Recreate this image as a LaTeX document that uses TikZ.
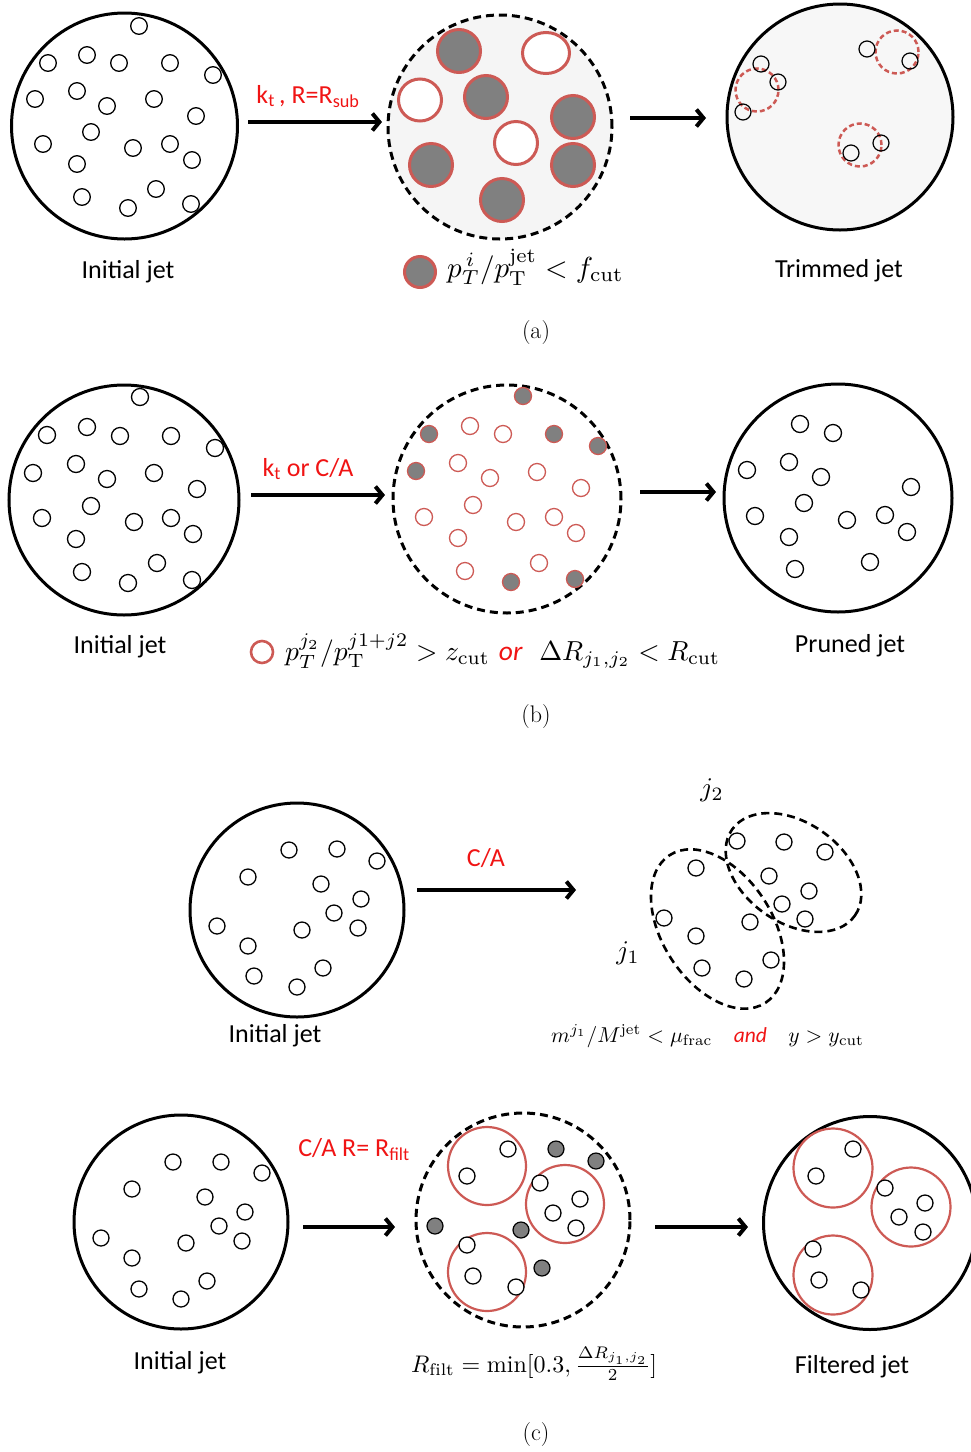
\documentclass[tikz,border=0pt]{standalone}
\usepackage{fontspec}
\usepackage{graphicx}
\newfontfamily\carl{Carlito}
\usetikzlibrary{arrows.meta}
\definecolor{cred}{RGB}{205,90,85}
\definecolor{tred}{RGB}{240,20,20}
\definecolor{pgray}{RGB}{128,128,128}
\newcommand\mth[2]{\scalebox{#1}{\fontsize{10}{12}\selectfont #2}}
\begin{document}
\begin{tikzpicture}[x=1pt,y=-1pt,
  jet/.style={circle, draw, line width=3pt, inner sep=0pt, minimum size=#1},
  djet/.style={circle, draw, line width=3pt, dash pattern=on 8pt off 5pt, inner sep=0pt, minimum size=#1},
  prt/.style={draw, fill=white, line width=1.3pt},
  oprt/.style={draw, line width=1.2pt},
  rprt/.style={draw=cred, fill=white, line width=1.3pt},
  gprt/.style={draw=cred, fill=pgray, line width=1.3pt},
  kprt/.style={draw, fill=pgray, line width=1.2pt},
  bigsub/.style={draw=cred, fill=pgray, line width=3pt},
  opensub/.style={draw=cred, fill=white, line width=3pt},
  rdash/.style={draw=cred, line width=2.5pt, dash pattern=on 5pt off 3pt},
  rring/.style={draw=cred, line width=2.2pt},
  ell/.style={draw, line width=2.6pt, dash pattern=on 8pt off 5pt},
  arr/.style={line width=4pt, -{Straight Barb[length=7pt,width=17pt]}},
  lbl/.style={font=\carl\fontsize{26}{30}\selectfont},
  rlbl/.style={font=\carl\fontsize{26}{30}\selectfont, text=tred},
  captxt/.style={font=\fontsize{24}{28}\selectfont}
]
\useasboundingbox (0,0) rectangle (970,1452);

% ================= (a) =================
\node[jet=226pt] (a1) at (124.5,126) {};
\foreach \x/\y in {139/26,48/63,87/55,119/63,170/63,213/75,35/99,77/91,107/106,154/99,196/116,91/132,43/144,133/148,170/144,192/160,77/164,82/197,128/208,156/189,191/204}
  \draw[prt] (\x,\y) circle[radius=8.3pt];

\node[djet=224pt, fill={rgb,255:red,245;green,245;blue,245}] (a2) at (500,127) {};
\foreach \x/\y in {459/51,486/97,573/117,431/165,573/165,502/200}
  \draw[bigsub] (\x,\y) circle[radius=21.5pt];
\draw[opensub] (546,53) circle[x radius=23.5pt, y radius=20.5pt];
\draw[opensub] (420,100) circle[x radius=21.5pt, y radius=21pt];
\draw[opensub] (516,143) circle[radius=21.5pt];

\node[jet=226pt, fill={rgb,255:red,247;green,247;blue,247}] (a3) at (840,117) {};
\foreach \x/\y in {757/90,897/52,860/145}
  \draw[rdash] (\x,\y) circle[radius=21.5pt];
\foreach \x/\y in {761/64,778/82,743/112,867/49,910/61,851/153,881/143}
  \draw[oprt] (\x,\y) circle[radius=8pt];

\coordinate (aA1s) at (248,122); \coordinate (aA1e) at (382,122);
\coordinate (aA2s) at (630,118); \coordinate (aA2e) at (706,118);
\draw[arr] (aA1s) -- (aA1e);
\draw[arr] (aA2s) -- (aA2e);
\node[rlbl, anchor=base] (ka) at (308,103) {k\textsubscript{t}\,, R=R\textsubscript{sub}};

\node[lbl, anchor=base] (ta1) at (128,278) {Initial jet};
\node[lbl, anchor=base] (ta3) at (839,277) {Trimmed jet};
\draw[bigsub] (420,272) circle[radius=15.5pt];
\node[anchor=base west, inner sep=0pt] (fa) at (447,277)
  {\mth{2.9}{$p_T^{\,i}/p_{\mathrm{T}}^{\mathrm{jet}} < f_{\mathrm{cut}}$}};
\node[captxt] (capa) at (536,333) {(a)};

% ================= (b) =================
\node[jet=230pt] (b1) at (124,500) {};
\foreach \x/\y in {140/397,47/435,87/427,120/436,171/436,215/448,33/473,76/464,107/479,154/473,197/489,91/506,42/518,134/522,171/518,193/534,76/539,82/572,128/583,157/563,192/580}
  \draw[prt] (\x,\y) circle[radius=8.5pt];

\node[djet=228pt, fill=white] (b2) at (507,499) {};
\foreach \x/\y in {470/426,503/434,458/463,490/478,537/472,581/488,473/505,424/517,516/522,554/517,576/533,458/538,539/563,465/571}
  \draw[rprt] (\x,\y) circle[radius=8.5pt];
\foreach \x/\y in {523/396,429/434,554/434,598/446,416/471,511/582,575/579}
  \draw[gprt] (\x,\y) circle[radius=8.5pt];

\node[jet=228pt] (b3) at (838,498) {};
\foreach \x/\y in {800/424,833/433,747/470,789/462,821/477,911/487,804/503,755/516,847/520,885/515,907/532,789/537,795/569,870/562}
  \draw[prt] (\x,\y) circle[radius=8.5pt];

\coordinate (bA1s) at (251,495); \coordinate (bA1e) at (385,495);
\coordinate (bA2s) at (640,492); \coordinate (bA2e) at (716,492);
\draw[arr] (bA1s) -- (bA1e);
\draw[arr] (bA2s) -- (bA2e);
\node[rlbl, anchor=base] (kb) at (308,476) {k\textsubscript{t} or C/A};

\node[lbl, anchor=base] (tb1) at (120,653) {Initial jet};
\node[lbl, anchor=base] (tb3) at (850,652) {Pruned jet};
\draw[draw=cred, fill=white, line width=2.6pt] (262,652) circle[radius=11pt];
\node[anchor=base west, inner sep=0pt] (fb) at (285,660)
  {\mth{2.75}{$p_T^{j_2}/p_{\mathrm{T}}^{j1+j2} > z_{\mathrm{cut}}$ \textcolor{tred}{\carl\itshape or} $\;\Delta R_{j_1,j_2} < R_{\mathrm{cut}}$}};
\node[captxt] (capb) at (536,717) {(b)};

% ================= (c) top =================
\node[jet=214pt] (c1) at (297,910) {};
\foreach \x/\y in {289/850,337/849,377/861,248/877,321/884,361/899,334/913,358/928,217/926,302/930,248/946,254/976,323/968,297/987}
  \draw[prt] (\x,\y) circle[radius=8pt];

\coordinate (cA1s) at (417,890); \coordinate (cA1e) at (576,890);
\draw[arr] (cA1s) -- (cA1e);
\node[rlbl, anchor=base] (kc) at (486,866) {C/A};

\draw[ell] (793.5,872.5) circle[x radius=75pt, y radius=50pt, rotate=-35];
\draw[ell] (717.5,929) circle[x radius=88pt, y radius=55pt, rotate=-57];
\foreach \x/\y in {737/841,784/842,825/852,769/876,809/891,782/904,805/919,696/868,664/918,696/936,750/922,702/968,771/960,744/979}
  \draw[prt] (\x,\y) circle[radius=8pt];
\node (j2l) at (712,790) {\mth{2.7}{$j_2$}};
\node (j1l) at (628,953) {\mth{2.7}{$j_1$}};

\node[lbl, anchor=base] (tc1) at (275,1042) {Initial jet};
\node[anchor=base west, inner sep=0pt] (fc) at (551,1042)
  {\mth{2.15}{$m^{j_1}/M^{\mathrm{jet}} < \mu_{\mathrm{frac}}$\quad\textcolor{tred}{\carl\itshape and}\quad$y > y_{\mathrm{cut}}$}};

% ================= (c) bottom =================
\node[jet=214pt] (d1) at (181,1222) {};
\foreach \x/\y in {173/1162,221/1162,262/1173,132/1189,205/1197,245/1212,219/1226,242/1241,101/1238,186/1243,132/1258,139/1289,207/1281,181/1299}
  \draw[prt] (\x,\y) circle[radius=8pt];

\node[djet=214pt, fill=white] (d2) at (523,1220) {};
\foreach \x/\y in {487/1166,565/1204,487/1272}
  \draw[rring] (\x,\y) circle[radius=39pt];
\foreach \x/\y in {508/1149,467/1176,540/1183,580/1199,553/1213,576/1228,467/1245,473/1276,516/1287}
  \draw[prt] (\x,\y) circle[radius=8pt];
\foreach \x/\y in {556/1149,596/1161,435/1226,521/1230,542/1268}
  \draw[kprt] (\x,\y) circle[radius=8pt];

\node[jet=213pt] (d3) at (870,1223) {};
\foreach \x/\y in {833/1168,911/1207,833/1275}
  \draw[rring] (\x,\y) circle[radius=39.5pt];
\foreach \x/\y in {853/1149,816/1176,885/1188,925/1203,899/1217,923/1232,813/1249,819/1280,861/1290}
  \draw[prt] (\x,\y) circle[radius=8pt];

\coordinate (dA1s) at (303,1227); \coordinate (dA1e) at (395,1227);
\coordinate (dA2s) at (655,1227); \coordinate (dA2e) at (748,1227);
\draw[arr] (dA1s) -- (dA1e);
\draw[arr] (dA2s) -- (dA2e);
\node[rlbl, anchor=base] (kd) at (354,1156) {C/A R= R\textsubscript{filt}};

\node[lbl, anchor=base] (td1) at (180,1369) {Initial jet};
\node[lbl, anchor=base] (td3) at (852,1373) {Filtered jet};
\node[anchor=base west, inner sep=0pt] (fd) at (411,1372)
  {\mth{2.4}{$R_{\mathrm{filt}} = \min[0.3, \frac{\Delta R_{j_1,j_2}}{2}]$}};
\node[captxt] (capc) at (536,1434) {(c)};
\end{tikzpicture}
\end{document}
